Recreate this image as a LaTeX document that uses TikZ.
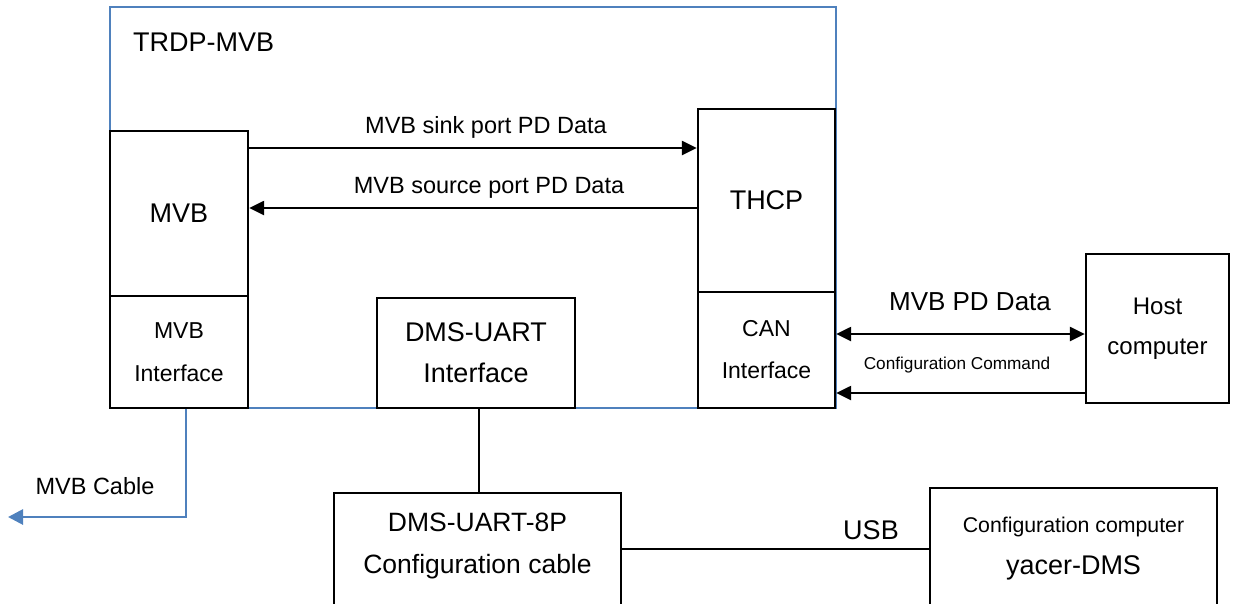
\documentclass[tikz,border=0pt]{standalone}
\usepackage{fontspec}
\setmainfont{Liberation Sans}
\usetikzlibrary{arrows.meta}
\definecolor{bluebox}{RGB}{79,129,189}
\begin{document}
\begin{tikzpicture}[x=1pt,y=-1pt,
  box/.style={draw=black, line width=2.3pt, fill=white, inner sep=0pt, align=center},
  tip/.tip={Triangle[length=15pt,width=14pt]},
  arr/.style={line width=2.3pt, -tip},
  darr/.style={line width=2.3pt, tip-tip},
  lbl/.style={inner sep=0pt, align=center},
  bluel/.style={draw=bluebox, line width=2.8pt}]
\useasboundingbox (0,0) rectangle (1235,603);
% outer blue box
\node[bluel, inner sep=0pt, minimum width=726pt, minimum height=401pt] (trdp) at (473,207.5) {};
\node[lbl, anchor=west, font=\fontsize{27}{32}\selectfont] (trdpl) at (133,42) {TRDP-MVB};
% boxes
\node[box, minimum width=138pt, minimum height=165pt, font=\fontsize{27}{32}\selectfont] (mvb) at (179,213.5) {MVB};
\node[box, minimum width=138pt, minimum height=112pt, font=\fontsize{23}{43}\selectfont] (mvbif) at (179,352) {MVB\\Interface};
\node[box, minimum width=137pt, minimum height=183pt, font=\fontsize{27}{32}\selectfont] (thcp) at (766.5,200.5) {THCP};
\node[box, minimum width=137pt, minimum height=116pt, font=\fontsize{23}{42}\selectfont] (can) at (766.5,350) {CAN\\Interface};
\node[box, minimum width=198pt, minimum height=110pt, font=\fontsize{27}{41}\selectfont] (dms) at (476,353) {DMS-UART\\Interface};
\node[box, minimum width=143pt, minimum height=149pt, font=\fontsize{24}{40}\selectfont] (host) at (1157.5,328.5) {Host\\computer};
\node[box, minimum width=287pt, minimum height=127pt] (dms8) at (477.5,556.5) {};
\node[lbl, font=\fontsize{26.5}{42}\selectfont] (dms8t) at (477.5,546) {DMS-UART-8P\\Configuration cable};
\node[box, minimum width=287pt, minimum height=132pt] (cfg) at (1073.5,554) {};
\node[lbl, font=\fontsize{21.3}{25}\selectfont] (cfgt1) at (1073.5,527) {Configuration computer};
\node[lbl, font=\fontsize{27}{32}\selectfont] (cfgt2) at (1073.5,568) {yacer-DMS};
% connectors
\draw[arr] (mvb.east |- 0,148) -- (thcp.west |- 0,148);
\draw[arr] (thcp.west |- 0,208) -- (mvb.east |- 0,208);
\node[lbl, font=\fontsize{23.5}{28}\selectfont] (sinkl) at (486,127) {MVB sink port PD Data};
\node[lbl, font=\fontsize{23.5}{28}\selectfont] (srcl) at (489,188) {MVB source port PD Data};
\draw[darr] (can.east |- 0,334) -- (host.west |- 0,334);
\draw[arr] (host.west |- 0,393) -- (can.east |- 0,393);
\node[lbl, font=\fontsize{26}{30}\selectfont] (pdl) at (970,302) {MVB PD Data};
\node[lbl, font=\fontsize{17.2}{20}\selectfont] (cmdl) at (957,365) {Configuration Command};
\draw[line width=2.3pt] (dms.south -| 479,0) -- (dms8.north -| 479,0);
\draw[line width=2.3pt] (dms8.east |- 0,549) -- (cfg.west |- 0,549);
\node[lbl, font=\fontsize{27}{32}\selectfont] (usbl) at (871,530) {USB};
\coordinate (cableend) at (8,517);
\draw[bluel, -{Triangle[length=15pt,width=15pt]}] (mvbif.south -| 186,0) |- (cableend);
\node[lbl, font=\fontsize{23.5}{28}\selectfont] (cablel) at (95,486) {MVB Cable};
\end{tikzpicture}
\end{document}
